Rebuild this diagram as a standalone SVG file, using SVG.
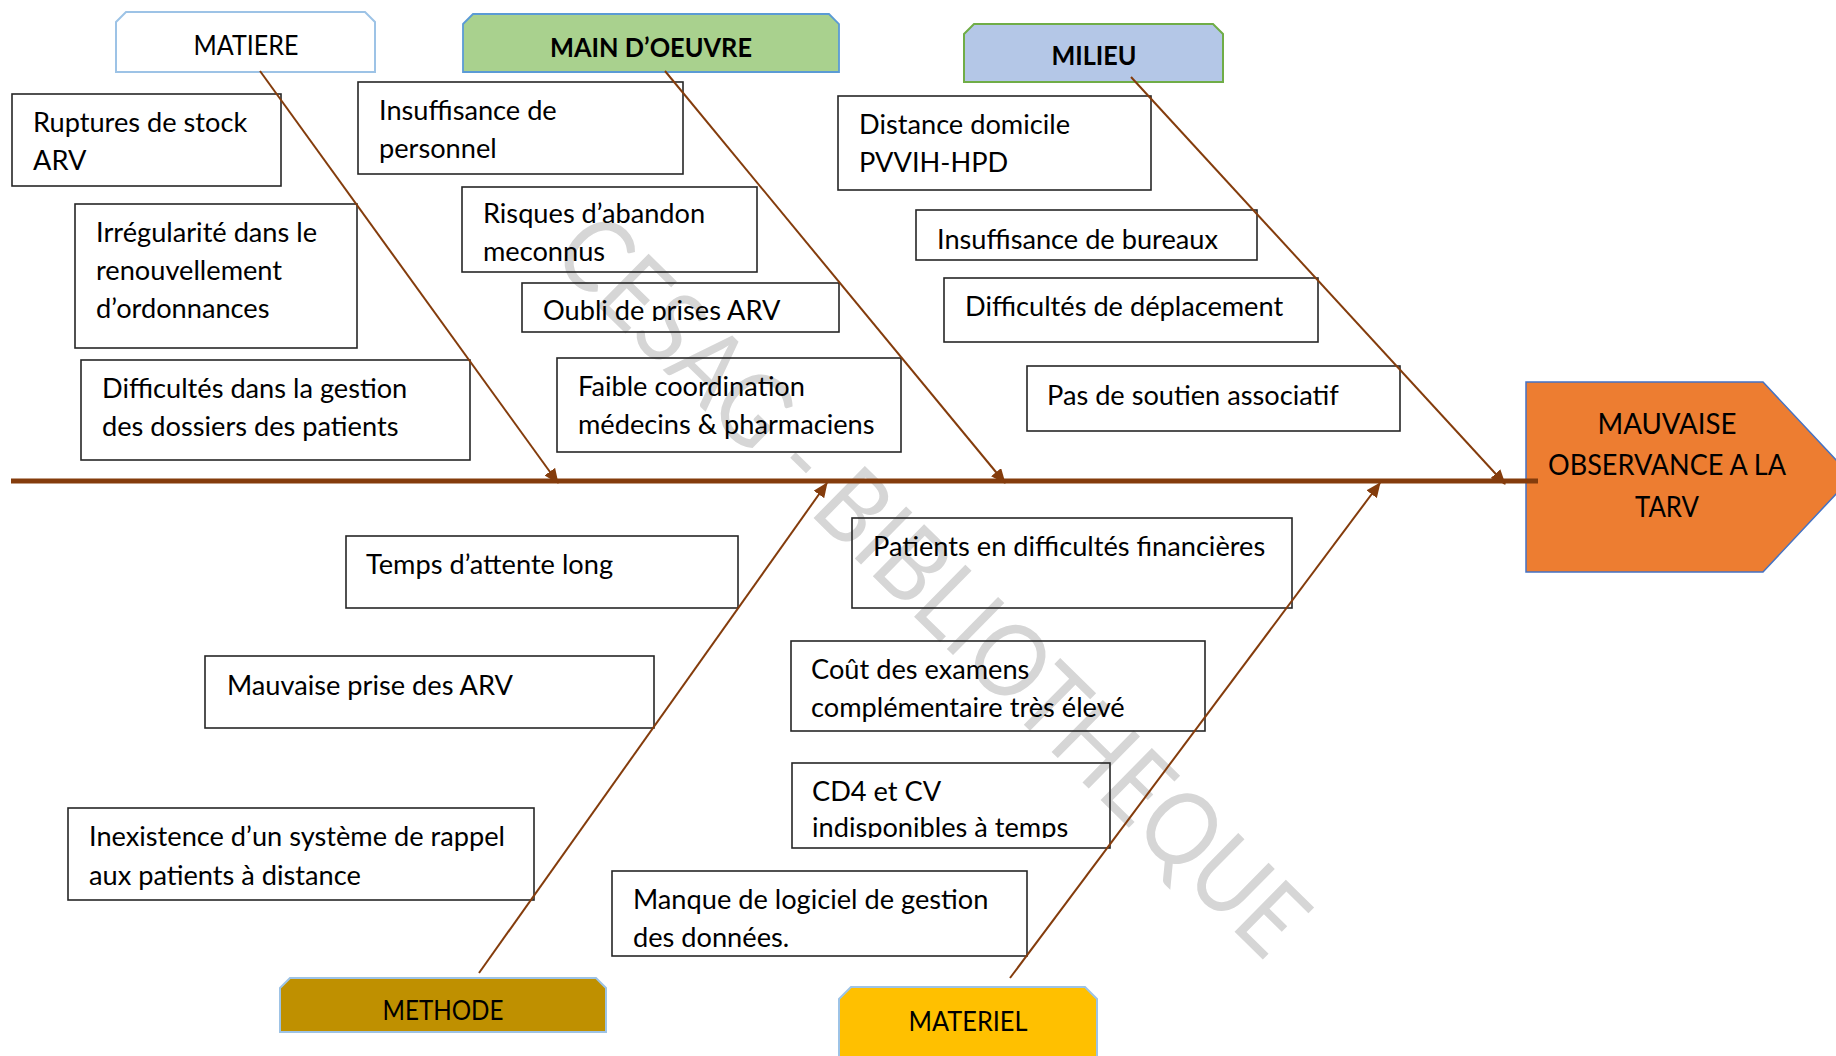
<svg xmlns="http://www.w3.org/2000/svg" width="1836" height="1056" viewBox="0 0 1836 1056">
  <style>
    .box { fill: none; stroke: #262626; stroke-width: 1.6; }
    .t { font-family: Lato, "Liberation Sans", sans-serif; font-size: 27.2px; fill: #000; }
    .hd { font-family: Lato, "Liberation Sans", sans-serif; font-size: 27px; fill: #000; text-anchor: middle; }
    .bold { font-weight: bold; }
    .head { font-family: Lato, "Liberation Sans", sans-serif; font-size: 29px; fill: #000; text-anchor: middle; }
    .bone { stroke: #843C0C; stroke-width: 2; fill: none; marker-end: url(#arrow); }
    .wm { font-family: Lato, "Liberation Sans", sans-serif; font-size: 102px; fill: #D6D6D6; }
  </style>
  <defs>
    <marker id="arrow" markerUnits="userSpaceOnUse" markerWidth="15" markerHeight="13" refX="14" refY="6.5" orient="auto">
      <path d="M0,0 L15,6.5 L0,13 z" fill="#843C0C"/>
    </marker>
    <clipPath id="clip-risques"><rect x="462" y="187" width="295" height="75"/></clipPath>
    <clipPath id="clip-oubli"><rect x="522" y="283" width="317" height="38"/></clipPath>
    <clipPath id="clip-cd4"><rect x="792" y="763" width="318" height="75"/></clipPath>
  </defs>

  <rect width="1836" height="1056" fill="#fff"/>

  <!-- watermark -->
  <text class="wm" x="0" y="0" text-anchor="middle" dominant-baseline="central" textLength="1005" lengthAdjust="spacingAndGlyphs" transform="translate(935 582) rotate(44.5)">CESAG - BIBLIOTHEQUE</text>

  <!-- effect -->
  <g id="effet">
    <polygon points="1526,382 1763,382 1852,477 1763,572 1526,572" fill="#ED7D31" stroke="#4472C4" stroke-width="1.5"/>
    <text class="head" x="1667" y="434" textLength="139" lengthAdjust="spacingAndGlyphs">MAUVAISE</text>
    <text class="head" x="1667" y="475" textLength="238" lengthAdjust="spacingAndGlyphs">OBSERVANCE A LA</text>
    <text class="head" x="1667" y="517" textLength="64" lengthAdjust="spacingAndGlyphs">TARV</text>
  </g>

  <!-- category headers -->
  <g id="matiere">
    <polygon points="116,22 126,12 365,12 375,22 375,72 116,72" fill="#fff" stroke="#9DC3E6" stroke-width="2"/>
    <text class="hd" x="246" y="55" textLength="105" lengthAdjust="spacingAndGlyphs">MATIERE</text>
  </g>
  <g id="main-oeuvre">
    <polygon points="463,24 473,14 829,14 839,24 839,72 463,72" fill="#A9D18E" stroke="#5B9BD5" stroke-width="1.8"/>
    <text class="hd bold" x="651" y="57" textLength="202" lengthAdjust="spacingAndGlyphs">MAIN D’OEUVRE</text>
  </g>
  <g id="milieu">
    <polygon points="964,34 974,24 1213,24 1223,34 1223,82 964,82" fill="#B4C7E7" stroke="#70AD47" stroke-width="2"/>
    <text class="hd bold" x="1094" y="65" textLength="85" lengthAdjust="spacingAndGlyphs">MILIEU</text>
  </g>
  <g id="methode">
    <polygon points="280,988 290,978 596,978 606,988 606,1032 280,1032" fill="#BF9000" stroke="#9DC3E6" stroke-width="2"/>
    <text class="hd" x="443" y="1020" textLength="121" lengthAdjust="spacingAndGlyphs">METHODE</text>
  </g>
  <g id="materiel">
    <polygon points="839,999 851,987 1085,987 1097,999 1097,1070 839,1070" fill="#FFC000" stroke="#9DC3E6" stroke-width="2"/>
    <text class="hd" x="968" y="1031" textLength="119" lengthAdjust="spacingAndGlyphs">MATERIEL</text>
  </g>

  <!-- causes: matiere -->
  <g id="ruptures">
    <rect class="box" x="12" y="94" width="269" height="92"/>
    <text class="t" x="33" y="132">Ruptures de stock</text>
    <text class="t" x="33" y="170">ARV</text>
  </g>
  <g id="irregularite">
    <rect class="box" x="75" y="204" width="282" height="144"/>
    <text class="t" x="96" y="242">Irrégularité dans le</text>
    <text class="t" x="96" y="280">renouvellement</text>
    <text class="t" x="96" y="318">d’ordonnances</text>
  </g>
  <g id="dossiers">
    <rect class="box" x="81" y="360" width="389" height="100"/>
    <text class="t" x="102" y="398">Difficultés dans la gestion</text>
    <text class="t" x="102" y="436">des dossiers des patients</text>
  </g>

  <!-- causes: main d'oeuvre -->
  <g id="personnel">
    <rect class="box" x="358" y="82" width="325" height="92"/>
    <text class="t" x="379" y="120">Insuffisance de</text>
    <text class="t" x="379" y="158">personnel</text>
  </g>
  <g id="abandon">
    <rect class="box" x="462" y="187" width="295" height="85"/>
    <g clip-path="url(#clip-risques)">
      <text class="t" x="483" y="223">Risques d’abandon</text>
      <text class="t" x="483" y="261">meconnus</text>
    </g>
  </g>
  <g id="oubli">
    <rect class="box" x="522" y="283" width="317" height="49"/>
    <text class="t" x="543" y="320" clip-path="url(#clip-oubli)">Oubli de prises ARV</text>
  </g>
  <g id="coordination">
    <rect class="box" x="557" y="358" width="344" height="94"/>
    <text class="t" x="578" y="396">Faible coordination</text>
    <text class="t" x="578" y="434">médecins &amp; pharmaciens</text>
  </g>

  <!-- causes: milieu -->
  <g id="distance">
    <rect class="box" x="838" y="96" width="313" height="94"/>
    <text class="t" x="859" y="134">Distance domicile</text>
    <text class="t" x="859" y="172">PVVIH-HPD</text>
  </g>
  <g id="bureaux">
    <rect class="box" x="916" y="210" width="341" height="50"/>
    <text class="t" x="937" y="249">Insuffisance de bureaux</text>
  </g>
  <g id="deplacement">
    <rect class="box" x="944" y="278" width="374" height="64"/>
    <text class="t" x="965" y="316">Difficultés de déplacement</text>
  </g>
  <g id="soutien">
    <rect class="box" x="1027" y="366" width="373" height="65"/>
    <text class="t" x="1047" y="405">Pas de soutien associatif</text>
  </g>

  <!-- causes: methode -->
  <g id="attente">
    <rect class="box" x="346" y="536" width="392" height="72"/>
    <text class="t" x="366" y="574">Temps d’attente long</text>
  </g>
  <g id="prise">
    <rect class="box" x="205" y="656" width="449" height="72"/>
    <text class="t" x="227" y="695">Mauvaise prise des ARV</text>
  </g>
  <g id="rappel">
    <rect class="box" x="68" y="808" width="466" height="92"/>
    <text class="t" x="89" y="846">Inexistence d’un système de rappel</text>
    <text class="t" x="89" y="885">aux patients à distance</text>
  </g>

  <!-- causes: materiel -->
  <g id="financieres">
    <rect class="box" x="852" y="518" width="440" height="90"/>
    <text class="t" x="873" y="556">Patients en difficultés financières</text>
  </g>
  <g id="examens">
    <rect class="box" x="791" y="641" width="414" height="90"/>
    <text class="t" x="811" y="679">Coût des examens</text>
    <text class="t" x="811" y="717">complémentaire très élevé</text>
  </g>
  <g id="cd4">
    <rect class="box" x="792" y="763" width="318" height="85"/>
    <g clip-path="url(#clip-cd4)">
      <text class="t" x="812" y="801">CD4 et CV</text>
      <text class="t" x="812" y="837">indisponibles à temps</text>
    </g>
  </g>
  <g id="logiciel">
    <rect class="box" x="612" y="871" width="415" height="85"/>
    <text class="t" x="633" y="909">Manque de logiciel de gestion</text>
    <text class="t" x="633" y="947">des données.</text>
  </g>

  <!-- spine and bones -->
  <g id="connecteurs">
    <line x1="11" y1="481" x2="1538" y2="481" stroke="#843C0C" stroke-width="5"/>
    <line class="bone" x1="260" y1="71" x2="558" y2="483"/>
    <line class="bone" x1="665" y1="71" x2="1005" y2="483"/>
    <line class="bone" x1="1131" y1="77" x2="1505" y2="484"/>
    <line class="bone" x1="479" y1="973" x2="827" y2="483"/>
    <line class="bone" x1="1010" y1="978" x2="1380" y2="483"/>
  </g>
</svg>
